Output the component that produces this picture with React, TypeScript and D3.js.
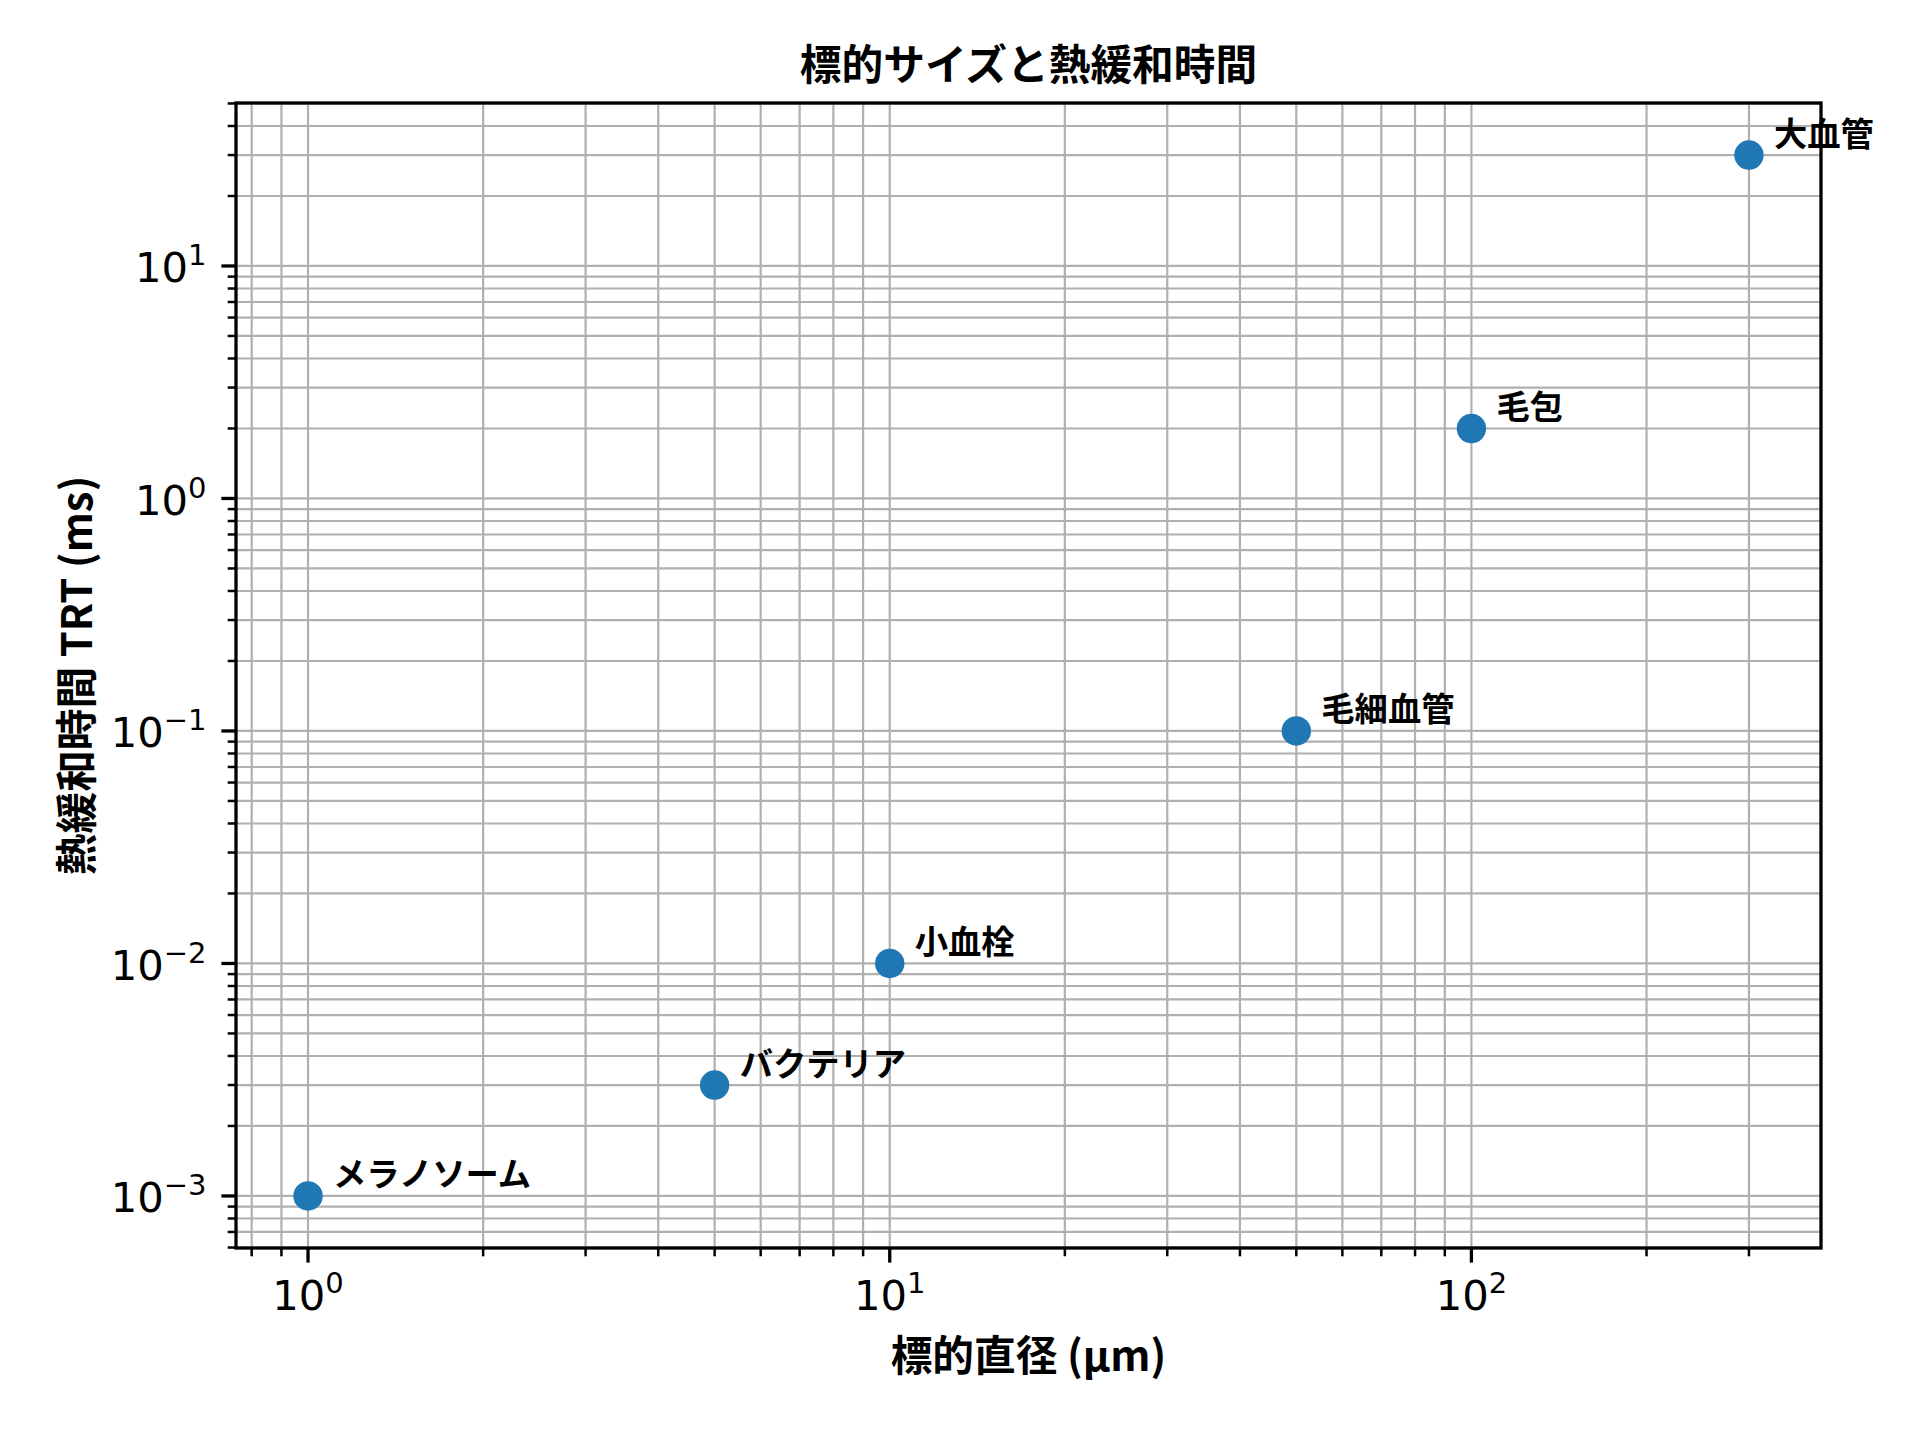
import { useEffect } from "react";
import * as d3 from "d3";

// target data
const names = ["メラノソーム", "バクテリア", "小血栓", "毛細血管", "毛包", "大血管"];
const diameters = [1, 5, 10, 50, 100, 300]; // µm
const trt = [0.001, 0.003, 0.01, 0.1, 2, 30]; // ms

const width = 1920;
const height = 1440;
const frame = { left: 236, right: 1821, top: 103, bottom: 1248 };

const cjk = "'Noto Sans CJK JP', 'Noto Sans', sans-serif";
const tickFont = "'DejaVu Sans', sans-serif";
const gridColor = "#b0b0b0";

// matplotlib style 5% margin in log space
const logDomain = (vals: number[]) => {
  const lo = Math.log10(d3.min(vals) as number);
  const hi = Math.log10(d3.max(vals) as number);
  const pad = (hi - lo) * 0.05;
  return [10 ** (lo - pad), 10 ** (hi + pad)];
};

const isPow10 = (v: number) => Math.abs(Math.log10(v) - Math.round(Math.log10(v))) < 1e-9;
const expText = (v: number) => {
  const e = Math.round(Math.log10(v));
  return e < 0 ? "\u2212" + Math.abs(e) : String(e);
};

const App = () => {
  useEffect(() => {
    document.body.style.margin = "0";
  }, []);

  const x = d3.scaleLog().domain(logDomain(diameters)).range([frame.left, frame.right]);
  const y = d3.scaleLog().domain(logDomain(trt)).range([frame.bottom, frame.top]);

  const xTicks = x.ticks();
  const yTicks = y.ticks();

  return (
    <svg
      width={width}
      height={height}
      viewBox={`0 0 ${width} ${height}`}
      style={{ position: "absolute", left: 0, top: 0, background: "#fff" }}
    >
      <rect width={width} height={height} fill="#fff" />

      {/* grid, major and minor */}
      <g stroke={gridColor} strokeWidth={2.2}>
        {xTicks.map((t, i) => (
          <line key={"gx" + i} x1={x(t)} x2={x(t)} y1={frame.top} y2={frame.bottom} />
        ))}
        {yTicks.map((t, i) => (
          <line key={"gy" + i} x1={frame.left} x2={frame.right} y1={y(t)} y2={y(t)} />
        ))}
      </g>

      {/* points */}
      <g fill="#1f77b4">
        {diameters.map((d, i) => (
          <circle key={"p" + i} cx={x(d)} cy={y(trt[i])} r={14.7} />
        ))}
      </g>

      {/* point labels */}
      <g fontFamily={cjk} fontWeight="bold" fontSize={33.3} fill="#000">
        {diameters.map((d, i) => (
          <text key={"l" + i} x={x(d) + 25} y={y(trt[i]) - 9.5}>
            {names[i]}
          </text>
        ))}
      </g>

      {/* x ticks */}
      <g stroke="#000">
        {xTicks.map((t, i) => {
          const major = isPow10(t);
          return (
            <line
              key={"tx" + i}
              x1={x(t)}
              x2={x(t)}
              y1={frame.bottom}
              y2={frame.bottom + (major ? 14.6 : 8.3)}
              strokeWidth={major ? 3.3 : 2.5}
            />
          );
        })}
        {yTicks.map((t, i) => {
          const major = isPow10(t);
          return (
            <line
              key={"ty" + i}
              x1={frame.left}
              x2={frame.left - (major ? 14.6 : 8.3)}
              y1={y(t)}
              y2={y(t)}
              strokeWidth={major ? 3.3 : 2.5}
            />
          );
        })}
      </g>

      <g fontFamily={tickFont} fontSize={41.7} fill="#000">
        {xTicks.filter(isPow10).map((t, i) => (
          <text key={"xl" + i} x={x(t)} y={1310} textAnchor="middle">
            10
            <tspan dy={-17} fontSize={29}>
              {expText(t)}
            </tspan>
          </text>
        ))}
        {yTicks.filter(isPow10).map((t, i) => (
          <text key={"yl" + i} x={206.5} y={y(t) + 16.5} textAnchor="end">
            10
            <tspan dy={-17} fontSize={29}>
              {expText(t)}
            </tspan>
          </text>
        ))}
      </g>

      {/* frame */}
      <rect
        x={frame.left}
        y={frame.top}
        width={frame.right - frame.left}
        height={frame.bottom - frame.top}
        fill="none"
        stroke="#000"
        strokeWidth={3.3}
      />

      {/* titles */}
      <g fontFamily={cjk} fontWeight="bold" fontSize={41.7} fill="#000">
        <text x={(frame.left + frame.right) / 2} y={79.5} textAnchor="middle">
          標的サイズと熱緩和時間
        </text>
        <text x={(frame.left + frame.right) / 2} y={1371} textAnchor="middle">
          標的直径 (μm)
        </text>
        <text
          transform={`translate(92, ${(frame.top + frame.bottom) / 2}) rotate(-90)`}
          textAnchor="middle"
        >
          熱緩和時間 TRT (ms)
        </text>
      </g>
    </svg>
  );
};

export default App;
